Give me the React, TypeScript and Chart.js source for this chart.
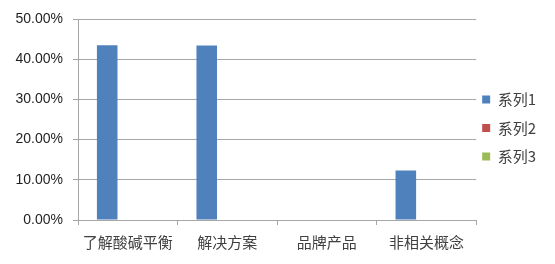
import React, { useEffect, useRef } from "react";
import { Chart, registerables } from "chart.js";

Chart.register(...registerables);

const categories = ["了解酸碱平衡", "解决方案", "品牌产品", "非相关概念"];
const seriesNames = ["系列1", "系列2", "系列3"];
const series1 = [43.5, 43.4, 0, 12.3];
const series2 = [0, 0, 0, 0];
const series3 = [0, 0, 0, 0];
const seriesColors = ["#4F81BD", "#C0504D", "#9BBB59"];
const yTicks = { min: 0, max: 50, step: 10 };

const gridColor = "#A6A6A6";
const numFont = "'Liberation Sans', 'Noto Sans', sans-serif";
const cjkFont = "'Noto Sans CJK SC', 'Noto Sans', sans-serif";

export default function App() {
  const canvasRef = useRef<HTMLCanvasElement | null>(null);

  useEffect(() => {
    if (!canvasRef.current) return;
    const values = [series1, series2, series3];
    const chart = new Chart(canvasRef.current, {
      type: "bar",
      data: {
        labels: categories,
        datasets: seriesNames.map((name, i) => ({
          label: name,
          data: values[i],
          backgroundColor: seriesColors[i],
          borderWidth: 0,
          categoryPercentage: 0.62,
          barPercentage: 1,
        })),
      },
      options: {
        animation: false,
        responsive: false,
        maintainAspectRatio: false,
        layout: { padding: { top: 19, right: 9, bottom: 0, left: 0 } },
        plugins: {
          tooltip: { enabled: false },
          legend: {
            position: "right",
            align: "start",
            // empty title block pushes the legend entries down to mid-height
            title: {
              display: true,
              text: "",
              padding: 0,
              font: { size: 10, lineHeight: "67px" },
            },
            labels: {
              boxWidth: 8,
              boxHeight: 8,
              padding: 6,
              color: "#404040",
              font: { family: cjkFont, size: 15, lineHeight: "22.5px" },
              generateLabels: (c: Chart) =>
                Chart.defaults.plugins.legend.labels
                  .generateLabels(c)
                  .map((item: any) => ({ ...item, text: [item.text], lineWidth: 0 })),
            },
          },
        },
        scales: {
          x: {
            grid: {
              display: true,
              drawOnChartArea: false,
              drawTicks: true,
              tickLength: 5,
              color: gridColor,
            },
            border: { display: true, color: gridColor },
            ticks: {
              color: "#404040",
              padding: 8,
              maxRotation: 0,
              font: { family: cjkFont, size: 15 },
            },
            afterFit: (scale: any) => {
              scale.height = 44;
            },
          },
          y: {
            min: yTicks.min,
            max: yTicks.max,
            grid: {
              color: gridColor,
              drawTicks: true,
              tickLength: 5,
            },
            border: { display: true, color: gridColor },
            ticks: {
              stepSize: yTicks.step,
              color: "#1f1f1f",
              padding: 10,
              font: { family: numFont, size: 14 },
              callback: (v: any) => Number(v).toFixed(2) + "%",
            },
            afterFit: (scale: any) => {
              scale.width = 78;
            },
          },
        },
      },
    });
    return () => chart.destroy();
  }, []);

  return (
    <div style={{ position: "fixed", left: 0, top: 0, width: 555, height: 264, background: "#fff" }}>
      <canvas ref={canvasRef} width={555} height={264} />
    </div>
  );
}
